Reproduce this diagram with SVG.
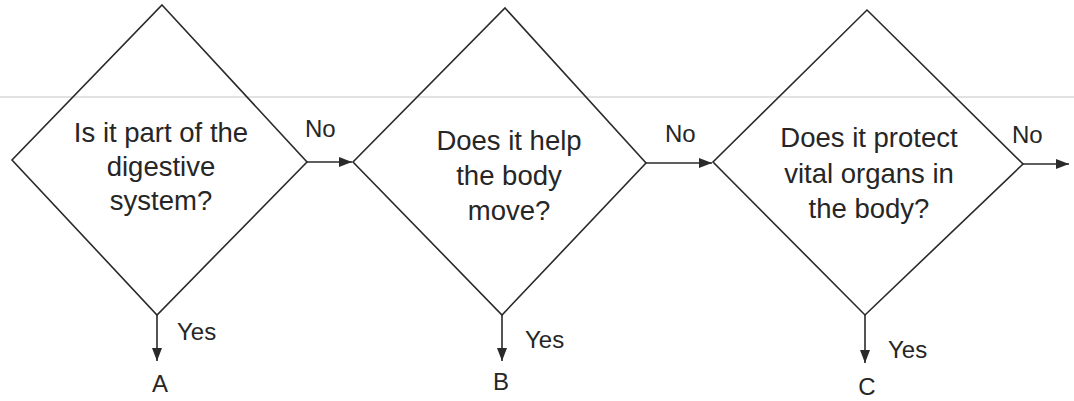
<svg xmlns="http://www.w3.org/2000/svg" width="1074" height="401" viewBox="0 0 1074 401">
  <style>
    .shape { fill: none; stroke: #2a2a2a; stroke-width: 1.6; stroke-linejoin: miter; }
    .conn { fill: none; stroke: #2a2a2a; stroke-width: 1.6; }
    .q { font-family: "Liberation Sans", Arial, sans-serif; font-size: 27.5px; fill: #262626; text-anchor: middle; }
    .lbl { font-family: "Liberation Sans", Arial, sans-serif; font-size: 24px; fill: #262626; }
    .end { font-family: "Liberation Sans", Arial, sans-serif; font-size: 24px; fill: #262626; text-anchor: middle; }
  </style>
  <defs>
    <marker id="arrow" markerUnits="userSpaceOnUse" markerWidth="14" markerHeight="12" refX="13" refY="5" orient="auto">
      <path d="M0,0 L13,5 L0,10 Z" fill="#2a2a2a"/>
    </marker>
  </defs>
  <rect width="1074" height="401" fill="#ffffff"/>
  <line x1="0" y1="97" x2="1074" y2="97" stroke="#e2e2e2" stroke-width="2"/>

  <g id="node-digestive">
    <polygon class="shape" points="162,5 307,162 157,315 12,160"/>
    <text class="q" x="161" y="142">Is it part of the</text>
    <text class="q" x="161" y="176">digestive</text>
    <text class="q" x="161" y="210">system?</text>
  </g>

  <g id="node-move">
    <polygon class="shape" points="505,8 646,163 502,315 353,162"/>
    <text class="q" x="509" y="150">Does it help</text>
    <text class="q" x="509" y="185">the body</text>
    <text class="q" x="509" y="220">move?</text>
  </g>

  <g id="node-protect">
    <polygon class="shape" points="867,10 1023,164 865,315 713,162"/>
    <text class="q" x="869" y="147">Does it protect</text>
    <text class="q" x="869" y="183">vital organs in</text>
    <text class="q" x="869" y="218">the body?</text>
  </g>

  <g id="node-A"><text class="end" x="160" y="392">A</text></g>
  <g id="node-B"><text class="end" x="501" y="390">B</text></g>
  <g id="node-C"><text class="end" x="867" y="395">C</text></g>

  <g id="connectors">
    <line class="conn" x1="307" y1="162" x2="352" y2="162" marker-end="url(#arrow)"/>
    <line class="conn" x1="646" y1="163" x2="712" y2="163" marker-end="url(#arrow)"/>
    <line class="conn" x1="1023" y1="164" x2="1069" y2="164" marker-end="url(#arrow)"/>
    <line class="conn" x1="157" y1="315" x2="157" y2="361" marker-end="url(#arrow)"/>
    <line class="conn" x1="502" y1="315" x2="502" y2="361" marker-end="url(#arrow)"/>
    <line class="conn" x1="865" y1="315" x2="865" y2="363" marker-end="url(#arrow)"/>
    <text class="lbl" x="305" y="137">No</text>
    <text class="lbl" x="665" y="142">No</text>
    <text class="lbl" x="1012" y="143">No</text>
    <text class="lbl" x="177" y="340">Yes</text>
    <text class="lbl" x="525" y="348">Yes</text>
    <text class="lbl" x="888" y="358">Yes</text>
  </g>
</svg>
